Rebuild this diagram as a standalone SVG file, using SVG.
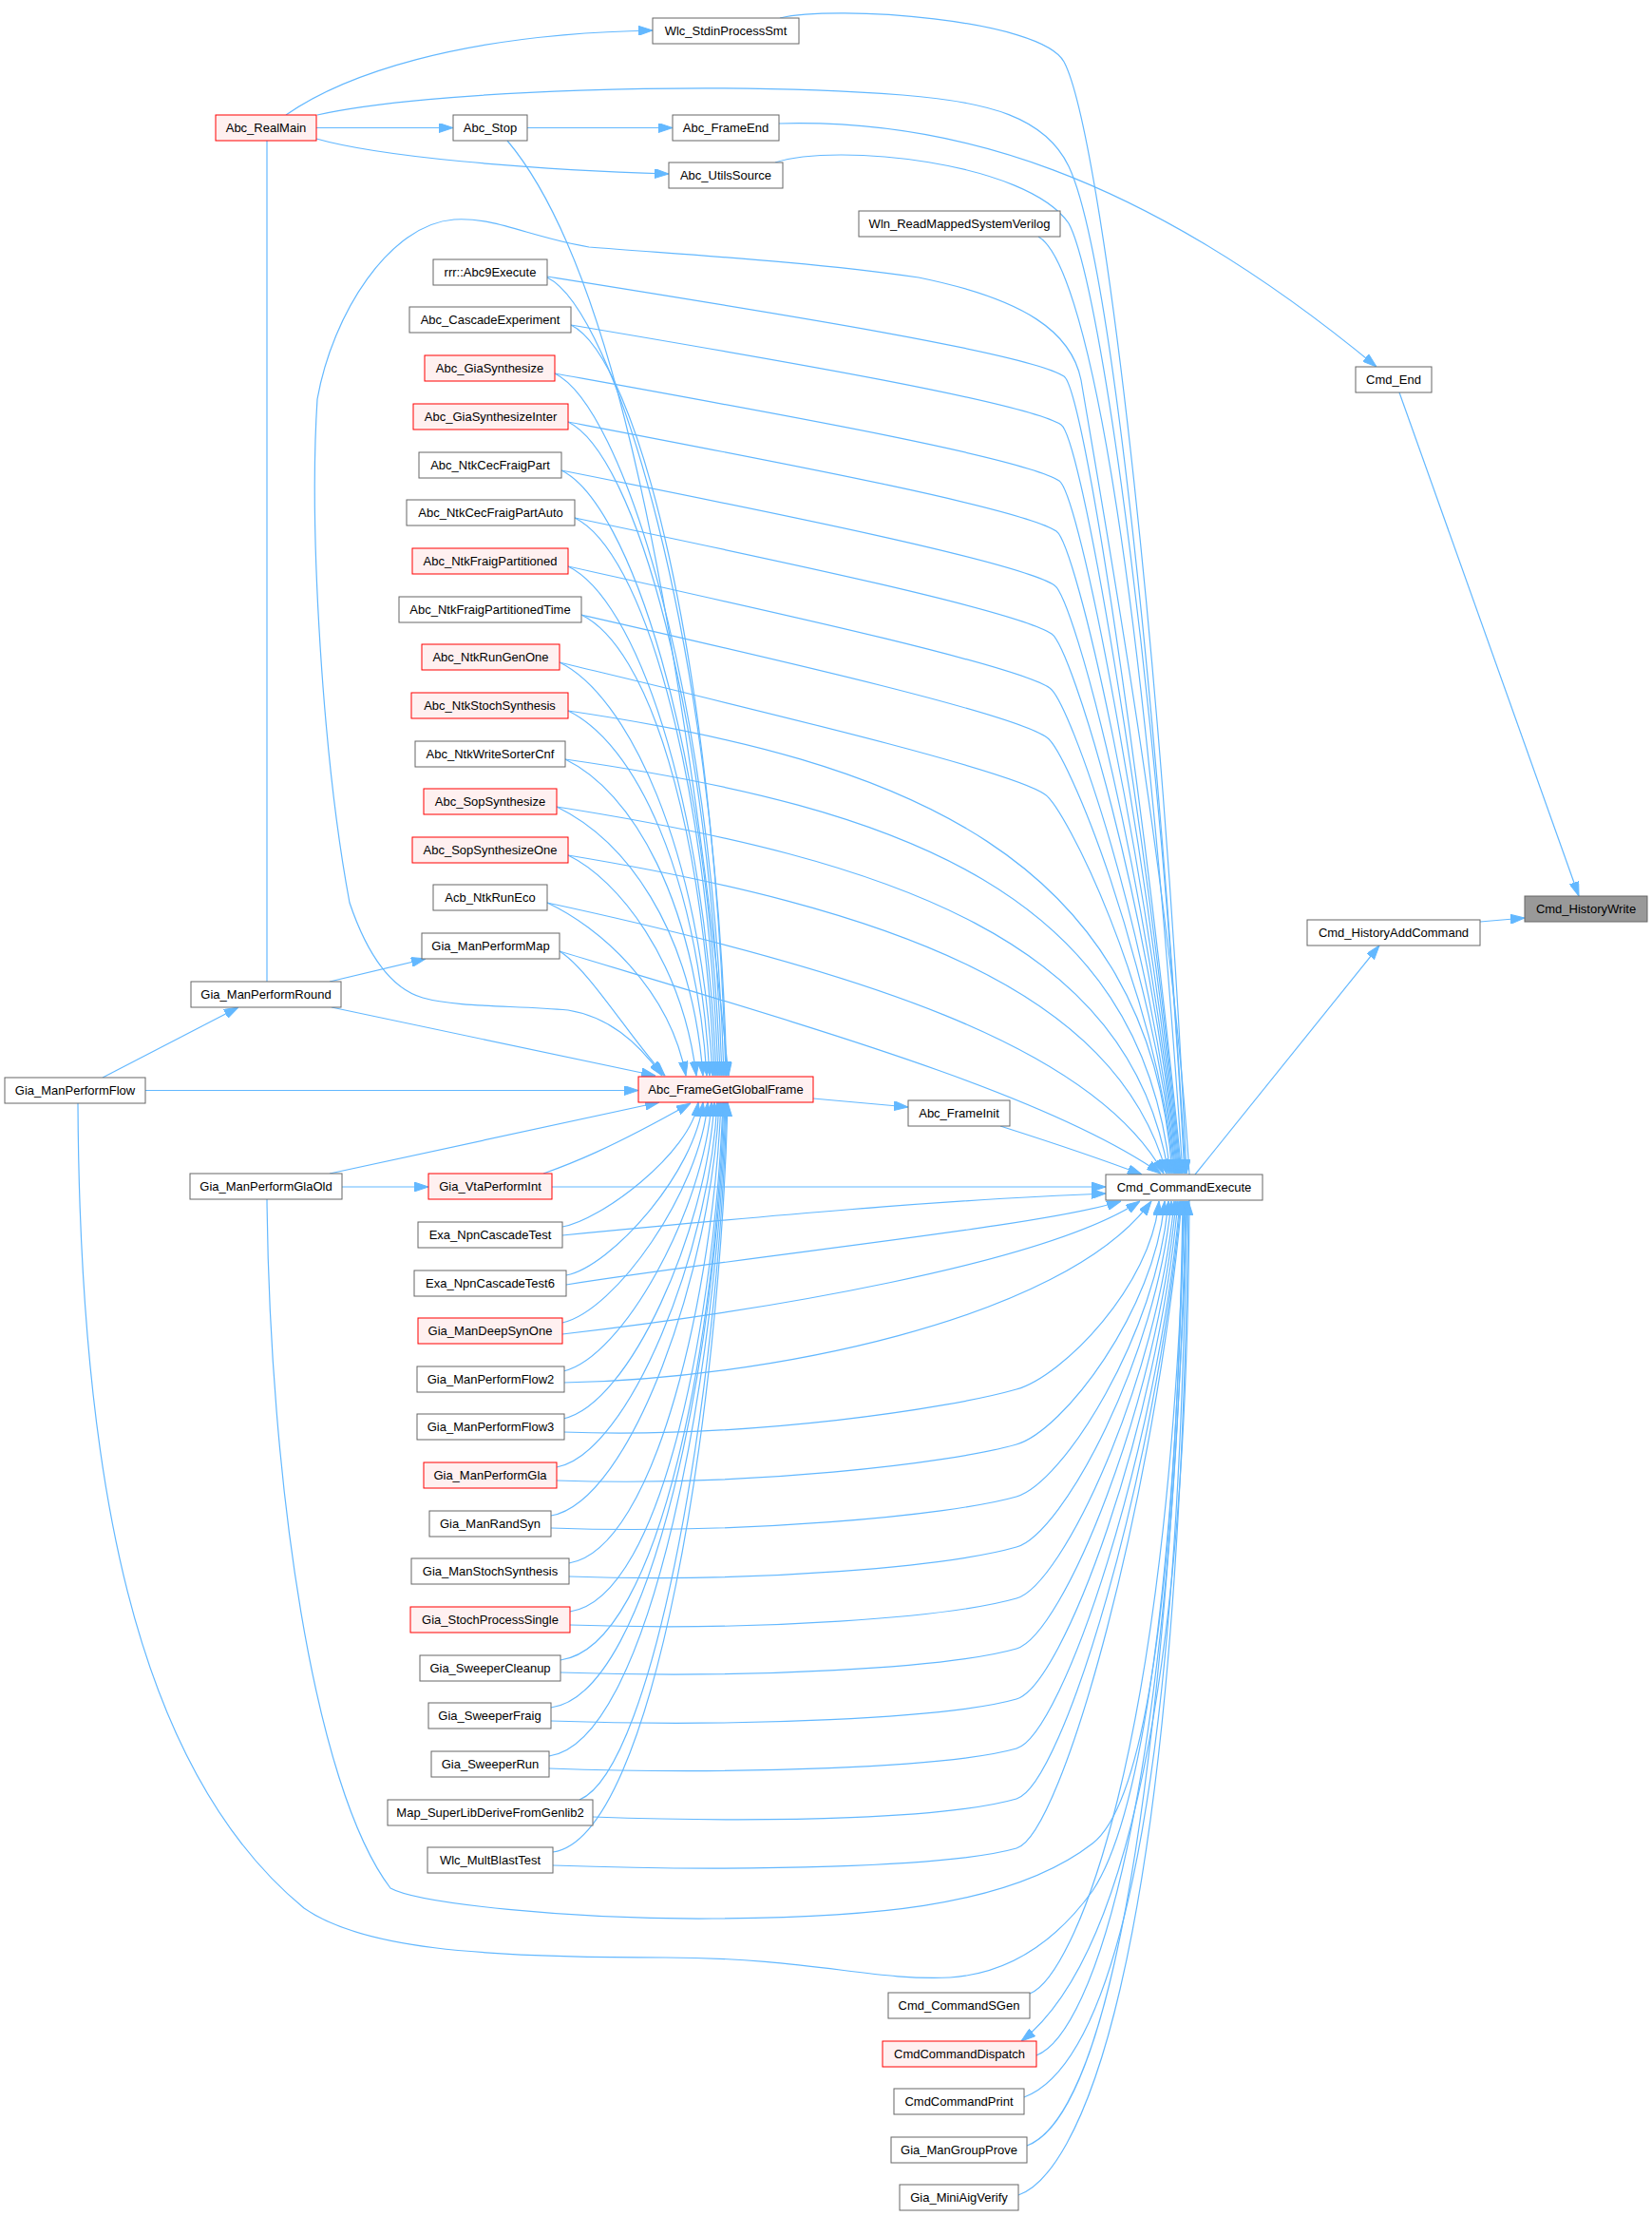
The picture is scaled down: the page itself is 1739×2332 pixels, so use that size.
<svg xmlns="http://www.w3.org/2000/svg" width="1739" height="2332" viewBox="0 0 1739 2332">
<defs>
<style>
.nd rect{fill:#ffffff;stroke:#666666;stroke-width:1}
.rd rect{fill:#FFF0F0;stroke:#FF0000;stroke-width:1}
.gr rect{fill:#999999;stroke:#666666;stroke-width:1}
text{font-family:"Liberation Sans",Arial,Helvetica,sans-serif;font-size:13px;fill:#000000;text-anchor:middle}
.e{fill:none;stroke:#63B8FF;stroke-width:1.2;marker-end:url(#a)}
.l{fill:none;stroke:#63B8FF;stroke-width:1.2}
</style>
<marker id="a" markerWidth="15" markerHeight="10" refX="15" refY="5" orient="auto" markerUnits="userSpaceOnUse"><path d="M0,0 L15,5 L0,10 z" fill="#63B8FF" stroke="#63B8FF" stroke-width="1"/></marker>
</defs>
<rect x="0" y="0" width="1739" height="2332" fill="#ffffff"/>
<g id="edges">
<path class="e" d="M1473,413 L1662,943"/>
<path class="e" d="M1558,970 L1605,966"/>
<path class="e" d="M1258,1236 L1452,995"/>
<path class="e" d="M820,130 C1000,125 1200,180 1449,386"/>
<path class="e" d="M555,134.5 L708,134.5"/>
<path class="e" d="M333,134.5 L477,134.5"/>
<path class="e" d="M301,121 C360,80 480,36 687,32"/>
<path class="e" d="M333,146 C400,165 550,178 704,183"/>
<path class="e" d="M334,121 C450,95 750,85 950,100 C1040,107 1100,123 1125,175 C1170,270 1219,755 1248,1235"/>
<path class="e" d="M821,19 C880,5 1095,20 1120,65 C1160,140 1225,700 1249,1235"/>
<path class="e" d="M816,171 C880,150 1080,170 1125,235 C1160,300 1222,760 1247,1235"/>
<path class="e" d="M1093,249 C1140,275 1200,560 1245,1235"/>
<path class="e" d="M534,148 C620,250 700,500 767,1132"/>
<path class="l" d="M281,148 L281,1033"/>
<path class="e" d="M1252,1236 C1235,950 1165,560 1138,400 C1128,350 1080,315 967,292 C850,275 720,268 620,260 C560,250 520,228 478,231 C410,236 350,330 334,420 C325,560 340,800 368,950 C385,1000 410,1040 445,1050 C480,1060 540,1058 598,1063 C640,1070 670,1095 697,1132"/>
<path class="e" d="M349,1060 L690,1132"/>
<path class="e" d="M347,1033 L448,1009"/>
<path class="e" d="M108,1134 L251,1060"/>
<path class="e" d="M153,1147.5 L672,1147.5"/>
<path class="e" d="M347,1235 L694,1160"/>
<path class="e" d="M360,1249 L451,1249"/>
<path class="e" d="M572,1235 C600,1225 640,1210 727,1161"/>
<path class="e" d="M581,1249 L1164,1249"/>
<path class="e" d="M856,1156 L956,1165"/>
<path class="e" d="M1053,1185 C1100,1200 1160,1220 1202,1236"/>
<path class="e" d="M281,1262 C284,1560 330,1880 411,1987 C440,2003 600,2020 750,2019 C900,2018 1060,2010 1150,1940 C1215,1890 1240,1600 1245,1264"/>
<path class="e" d="M82,1161 C84,1550 140,1860 320,2008 C380,2050 500,2060 700,2060 C850,2060 920,2085 1000,2081 C1060,2077 1110,2045 1150,1990 C1210,1900 1240,1600 1246,1264"/>
<path class="e" d="M1252,1263 C1250,1700 1200,2050 1075,2148"/>
<path class="e" d="M1091,2163 C1150,2140 1235,1900 1248,1264"/>
<path class="e" d="M1084,2098 C1130,2080 1230,1850 1247,1264"/>
<path class="e" d="M1078,2207 C1150,2180 1240,2000 1249,1264"/>
<path class="e" d="M1081,2258 C1130,2240 1220,2100 1250,1264"/>
<path class="e" d="M1072,2310 C1130,2290 1240,2100 1251,1264"/>
<path class="e" d="M576,291 C814,329 1085,372 1120,396 C1141,410 1202,816 1244,1235"/>
<path class="e" d="M601,342 C826,380 1082,424 1117,447 C1138,461 1204,841 1243,1235"/>
<path class="e" d="M584,393 C816,435 1080,482 1115,506 C1136,520 1206,871 1242,1235"/>
<path class="e" d="M598,444 C823,487 1077,535 1112,559 C1133,573 1207,897 1241,1235"/>
<path class="e" d="M591,495 C818,540 1075,592 1110,616 C1131,630 1209,926 1240,1235"/>
<path class="e" d="M605,545 C824,591 1072,643 1107,667 C1128,681 1211,951 1239,1235"/>
<path class="e" d="M598,596 C819,645 1070,700 1105,724 C1126,738 1212,980 1238,1235"/>
<path class="e" d="M612,647 C826,696 1067,751 1102,776 C1123,790 1214,1006 1237,1235"/>
<path class="e" d="M589,697 C812,751 1065,811 1100,836 C1121,850 1216,1036 1236,1235"/>
<path class="e" d="M598,748 C950,800 1210,900 1234,1235"/>
<path class="e" d="M595,799 C950,850 1200,940 1232,1235"/>
<path class="e" d="M586,849 C940,905 1190,990 1230,1235"/>
<path class="e" d="M598,900 C930,955 1175,1040 1228,1235"/>
<path class="e" d="M576,950 C900,1020 1150,1100 1225,1235"/>
<path class="e" d="M589,1001 C850,1080 1100,1150 1222,1235"/>
<path class="e" d="M576,292 C646,326 753,666 765,1132"/>
<path class="e" d="M601,342 C671,376 752,694 764,1132"/>
<path class="e" d="M584,393 C654,427 750,721 762,1132"/>
<path class="e" d="M598,444 C668,478 748,750 760,1132"/>
<path class="e" d="M591,495 C661,529 746,778 758,1132"/>
<path class="e" d="M605,545 C675,579 744,805 756,1132"/>
<path class="e" d="M598,596 C668,630 742,833 754,1132"/>
<path class="e" d="M612,647 C682,681 740,861 752,1132"/>
<path class="e" d="M589,697 C659,731 738,889 750,1132"/>
<path class="e" d="M598,748 C668,782 735,917 747,1132"/>
<path class="e" d="M595,799 C665,833 732,945 744,1132"/>
<path class="e" d="M586,849 C656,883 728,973 740,1132"/>
<path class="e" d="M598,900 C650,925 718,1010 733,1132"/>
<path class="e" d="M576,950 C630,975 705,1040 722,1132"/>
<path class="e" d="M589,1001 C620,1020 665,1095 700,1132"/>
<path class="e" d="M592,1291 C631,1285 727,1214 735,1160"/>
<path class="e" d="M596,1342 C643,1333 732,1234 740,1160"/>
<path class="e" d="M592,1392 C647,1380 737,1254 745,1160"/>
<path class="e" d="M593,1443 C655,1429 741,1274 749,1160"/>
<path class="e" d="M593,1493 C663,1478 744,1294 752,1160"/>
<path class="e" d="M586,1544 C663,1529 747,1315 755,1160"/>
<path class="e" d="M580,1595 C665,1580 749,1335 757,1160"/>
<path class="e" d="M599,1645 C691,1630 751,1355 759,1160"/>
<path class="e" d="M600,1696 C700,1681 753,1376 761,1160"/>
<path class="e" d="M590,1747 C698,1732 754,1396 762,1160"/>
<path class="e" d="M580,1797 C688,1782 755,1416 763,1160"/>
<path class="e" d="M578,1848 C686,1833 756,1436 764,1160"/>
<path class="e" d="M610,1894 C690,1860 757,1455 765,1160"/>
<path class="e" d="M582,1949 C690,1934 758,1477 766,1160"/>
<path class="e" d="M592,1300 C800,1280 1000,1262 1164,1256"/>
<path class="e" d="M596,1352 C800,1320 1100,1290 1180,1264"/>
<path class="e" d="M592,1404 C800,1380 1100,1330 1200,1264"/>
<path class="e" d="M593,1455 C800,1452 1120,1390 1212,1264"/>
<path class="e" d="M593,1507 C793,1514 1000,1482 1070,1462 C1119,1448 1212,1353 1220,1264"/>
<path class="e" d="M586,1558 C786,1565 1000,1540 1070,1520 C1119,1506 1216,1379 1226,1264"/>
<path class="e" d="M580,1608 C780,1615 1000,1595 1070,1575 C1119,1561 1218,1404 1230,1264"/>
<path class="e" d="M599,1659 C799,1666 1000,1648 1070,1628 C1119,1614 1218,1428 1233,1264"/>
<path class="e" d="M600,1710 C800,1717 1000,1702 1070,1682 C1119,1668 1219,1452 1236,1264"/>
<path class="e" d="M590,1760 C790,1767 1000,1755 1070,1735 C1119,1721 1219,1476 1238,1264"/>
<path class="e" d="M580,1811 C780,1818 1000,1808 1070,1788 C1119,1774 1219,1500 1240,1264"/>
<path class="e" d="M578,1861 C778,1868 1000,1860 1070,1840 C1119,1826 1219,1523 1242,1264"/>
<path class="e" d="M624,1912 C824,1919 1000,1913 1070,1893 C1119,1879 1218,1547 1243,1264"/>
<path class="e" d="M582,1963 C782,1970 1000,1965 1070,1945 C1119,1931 1217,1570 1244,1264"/>
</g>
<g id="n_chw" class="gr"><rect x="1605" y="943" width="129" height="27"/><text x="1669.5" y="961">Cmd_HistoryWrite</text></g>
<g id="n_cend" class="nd"><rect x="1427" y="386" width="80" height="27"/><text x="1467" y="404">Cmd_End</text></g>
<g id="n_chac" class="nd"><rect x="1376" y="968" width="182" height="27"/><text x="1467" y="986">Cmd_HistoryAddCommand</text></g>
<g id="n_afe" class="nd"><rect x="708" y="121" width="112" height="27"/><text x="764" y="139">Abc_FrameEnd</text></g>
<g id="n_cce" class="nd"><rect x="1164" y="1236" width="165" height="27"/><text x="1246.5" y="1254">Cmd_CommandExecute</text></g>
<g id="n_astop" class="nd"><rect x="477" y="121" width="78" height="27"/><text x="516" y="139">Abc_Stop</text></g>
<g id="n_arm" class="rd"><rect x="227" y="121" width="106" height="27"/><text x="280" y="139">Abc_RealMain</text></g>
<g id="n_wlcs" class="nd"><rect x="687" y="19" width="154" height="27"/><text x="764" y="37">Wlc_StdinProcessSmt</text></g>
<g id="n_aus" class="nd"><rect x="704" y="171" width="120" height="27"/><text x="764" y="189">Abc_UtilsSource</text></g>
<g id="n_wln" class="nd"><rect x="904" y="222" width="212" height="27"/><text x="1010" y="240">Wln_ReadMappedSystemVerilog</text></g>
<g id="n_rrr" class="nd"><rect x="456" y="273" width="120" height="27"/><text x="516" y="291">rrr::Abc9Execute</text></g>
<g id="n_ace" class="nd"><rect x="431" y="323" width="170" height="27"/><text x="516" y="341">Abc_CascadeExperiment</text></g>
<g id="n_ags" class="rd"><rect x="447" y="374" width="137" height="27"/><text x="515.5" y="392">Abc_GiaSynthesize</text></g>
<g id="n_agsi" class="rd"><rect x="435" y="425" width="163" height="27"/><text x="516.5" y="443">Abc_GiaSynthesizeInter</text></g>
<g id="n_ncfp" class="nd"><rect x="441" y="476" width="150" height="27"/><text x="516" y="494">Abc_NtkCecFraigPart</text></g>
<g id="n_ncfpa" class="nd"><rect x="428" y="526" width="177" height="27"/><text x="516.5" y="544">Abc_NtkCecFraigPartAuto</text></g>
<g id="n_nfp" class="rd"><rect x="434" y="577" width="164" height="27"/><text x="516" y="595">Abc_NtkFraigPartitioned</text></g>
<g id="n_nfpt" class="nd"><rect x="420" y="628" width="192" height="27"/><text x="516" y="646">Abc_NtkFraigPartitionedTime</text></g>
<g id="n_nrgo" class="rd"><rect x="444" y="678" width="145" height="27"/><text x="516.5" y="696">Abc_NtkRunGenOne</text></g>
<g id="n_nss" class="rd"><rect x="433" y="729" width="165" height="27"/><text x="515.5" y="747">Abc_NtkStochSynthesis</text></g>
<g id="n_nwsc" class="nd"><rect x="437" y="780" width="158" height="27"/><text x="516" y="798">Abc_NtkWriteSorterCnf</text></g>
<g id="n_ss" class="rd"><rect x="446" y="830" width="140" height="27"/><text x="516" y="848">Abc_SopSynthesize</text></g>
<g id="n_sso" class="rd"><rect x="434" y="881" width="164" height="27"/><text x="516" y="899">Abc_SopSynthesizeOne</text></g>
<g id="n_acb" class="nd"><rect x="456" y="931" width="120" height="27"/><text x="516" y="949">Acb_NtkRunEco</text></g>
<g id="n_gpm" class="nd"><rect x="444" y="982" width="145" height="27"/><text x="516.5" y="1000">Gia_ManPerformMap</text></g>
<g id="n_gpr" class="nd"><rect x="201" y="1033" width="158" height="27"/><text x="280" y="1051">Gia_ManPerformRound</text></g>
<g id="n_gpf" class="nd"><rect x="5" y="1134" width="148" height="27"/><text x="79" y="1152">Gia_ManPerformFlow</text></g>
<g id="n_gf" class="rd"><rect x="672" y="1133" width="184" height="27"/><text x="764" y="1151">Abc_FrameGetGlobalFrame</text></g>
<g id="n_afi" class="nd"><rect x="956" y="1158" width="107" height="27"/><text x="1009.5" y="1176">Abc_FrameInit</text></g>
<g id="n_gpgo" class="nd"><rect x="200" y="1235" width="160" height="27"/><text x="280" y="1253">Gia_ManPerformGlaOld</text></g>
<g id="n_vta" class="rd"><rect x="451" y="1235" width="130" height="27"/><text x="516" y="1253">Gia_VtaPerformInt</text></g>
<g id="n_exa" class="nd"><rect x="440" y="1286" width="152" height="27"/><text x="516" y="1304">Exa_NpnCascadeTest</text></g>
<g id="n_exa6" class="nd"><rect x="436" y="1337" width="160" height="27"/><text x="516" y="1355">Exa_NpnCascadeTest6</text></g>
<g id="n_gds" class="rd"><rect x="440" y="1387" width="152" height="27"/><text x="516" y="1405">Gia_ManDeepSynOne</text></g>
<g id="n_gpf2" class="nd"><rect x="439" y="1438" width="155" height="27"/><text x="516.5" y="1456">Gia_ManPerformFlow2</text></g>
<g id="n_gpf3" class="nd"><rect x="439" y="1488" width="155" height="27"/><text x="516.5" y="1506">Gia_ManPerformFlow3</text></g>
<g id="n_gpg" class="rd"><rect x="446" y="1539" width="140" height="27"/><text x="516" y="1557">Gia_ManPerformGla</text></g>
<g id="n_grs" class="nd"><rect x="452" y="1590" width="128" height="27"/><text x="516" y="1608">Gia_ManRandSyn</text></g>
<g id="n_gss" class="nd"><rect x="433" y="1640" width="166" height="27"/><text x="516" y="1658">Gia_ManStochSynthesis</text></g>
<g id="n_gsps" class="rd"><rect x="432" y="1691" width="168" height="27"/><text x="516" y="1709">Gia_StochProcessSingle</text></g>
<g id="n_gswc" class="nd"><rect x="442" y="1742" width="148" height="27"/><text x="516" y="1760">Gia_SweeperCleanup</text></g>
<g id="n_gswf" class="nd"><rect x="451" y="1792" width="129" height="27"/><text x="515.5" y="1810">Gia_SweeperFraig</text></g>
<g id="n_gswr" class="nd"><rect x="454" y="1843" width="124" height="27"/><text x="516" y="1861">Gia_SweeperRun</text></g>
<g id="n_msl" class="nd"><rect x="408" y="1894" width="216" height="27"/><text x="516" y="1912">Map_SuperLibDeriveFromGenlib2</text></g>
<g id="n_wmb" class="nd"><rect x="450" y="1944" width="132" height="27"/><text x="516" y="1962">Wlc_MultBlastTest</text></g>
<g id="n_csg" class="nd"><rect x="935" y="2097" width="149" height="27"/><text x="1009.5" y="2115">Cmd_CommandSGen</text></g>
<g id="n_ccd" class="rd"><rect x="929" y="2148" width="162" height="27"/><text x="1010" y="2166">CmdCommandDispatch</text></g>
<g id="n_ccp" class="nd"><rect x="941" y="2198" width="137" height="27"/><text x="1009.5" y="2216">CmdCommandPrint</text></g>
<g id="n_ggp" class="nd"><rect x="938" y="2249" width="143" height="27"/><text x="1009.5" y="2267">Gia_ManGroupProve</text></g>
<g id="n_gmv" class="nd"><rect x="947" y="2299" width="125" height="27"/><text x="1009.5" y="2317">Gia_MiniAigVerify</text></g>
</svg>
